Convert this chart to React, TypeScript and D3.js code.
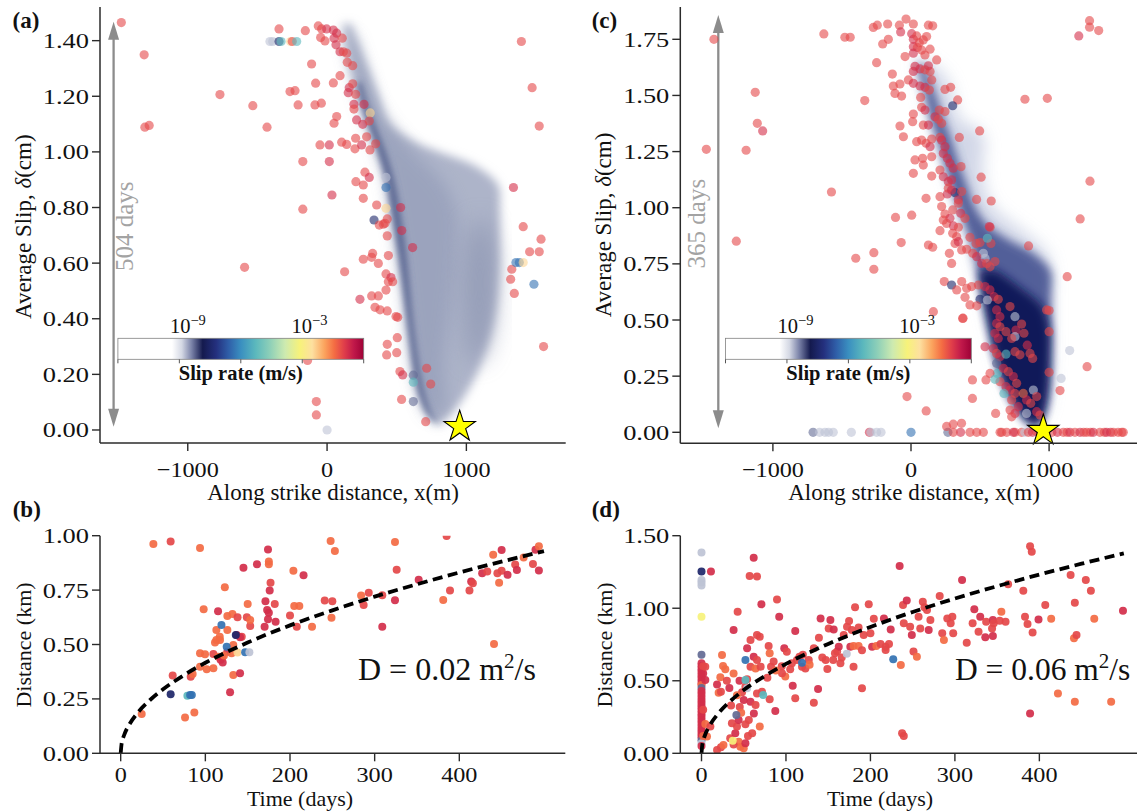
import React from 'react';
import * as d3 from 'd3';

type Pt = [number, number, string];
type Row = [number, number, number];

// ---------------- shared colour map (fraction along colour bar -> colour)
const COLOR_STOPS: [number, string][] = [
  [0.0, '#ffffff'], [0.22, '#ffffff'], [0.26, '#d4d8e4'], [0.30, '#7a82a8'],
  [0.345, '#141a4e'], [0.40, '#24307e'], [0.45, '#2f5ea8'], [0.50, '#3a8fc0'],
  [0.56, '#5bb8bd'], [0.62, '#8fd0b8'], [0.68, '#cdeab0'], [0.74, '#f7f27a'],
  [0.79, '#fde0a0'], [0.84, '#fba45e'], [0.88, '#f46d43'], [0.92, '#e03e4a'],
  [0.96, '#c0184a'], [1.0, '#9e0136'],
];
// log10 slip-rate of each point class
const RATE_LOG: Record<string, number> = {
  R: -1.1, r: -1.4, o: -1.75, p: -2.76, y: -3.5, t: -5.66, b: -6.75, n: -7.9, G: -8.69, g: -9.18,
};
const COLORBAR_DOMAIN: [number, number] = [-12.45, -0.33];
const COLORBAR_LABELS = [-9, -3];

// ---------------- panel (a)
const A_POINTS: Pt[] = [
  [-1477, 1.465, 'r'], [-1313, 1.349, 'r'], [-1308, 1.089, 'r'], [-1277, 1.095, 'r'],
  [-769, 1.206, 'r'], [-533, 1.166, 'r'], [-431, 1.089, 'r'], [-592, 0.585, 'r'], [-345, 1.442, 'r'],
  [-410, 1.397, 'g'], [-390, 1.397, 'g'], [-345, 1.397, 'n'], [-330, 1.397, 't'], [-262, 1.397, 'p'],
  [-250, 1.397, 'r'], [-218, 1.397, 't'],
  [-266, 1.217, 'r'], [-230, 1.220, 'r'], [-208, 1.169, 'r'], [-174, 0.965, 'r'], [-174, 0.794, 'r'],
  [-156, 1.436, 'r'], [-111, 1.316, 'r'], [-82, 1.247, 'r'], [-87, 1.169, 'r'], [-41, 1.175, 'r'],
  [-51, 1.025, 'r'], [16, 1.025, 'R'], [16, 0.965, 'R'], [35, 0.845, 'R'], [126, 0.569, 'r'],
  [-77, 0.102, 'r'], [-77, 0.054, 'r'], [0, 0.0, 'g'], [-140, 0.25, 'r'],
  [-63, 1.453, 'r'], [-39, 1.442, 'r'], [-3, 1.442, 'R'], [45, 1.438, 'R'], [69, 1.427, 'R'],
  [-46, 1.411, 'r'], [-15, 1.399, 'r'], [50, 1.409, 'R'], [64, 1.385, 'R'], [93, 1.360, 'R'],
  [117, 1.360, 'r'], [109, 1.409, 'r'], [141, 1.355, 'r'], [145, 1.322, 'r'], [184, 1.310, 'r'],
  [93, 1.274, 'r'], [45, 1.248, 'r'], [159, 1.231, 'R'], [184, 1.245, 'r'], [152, 1.213, 'R'],
  [205, 1.207, 'r'], [193, 1.171, 'R'], [265, 1.171, 'R'], [193, 1.154, 'r'], [310, 1.140, 'p'],
  [69, 1.127, 'r'], [50, 1.103, 'r'], [212, 1.115, 'R'], [256, 1.099, 'R'], [303, 1.111, 'r'],
  [105, 1.035, 'r'], [141, 1.027, 'r'], [205, 1.049, 'r'], [284, 1.054, 'r'], [200, 1.011, 'r'],
  [248, 1.025, 'R'], [308, 1.007, 'r'], [349, 1.029, 'r'],
  [272, 0.927, 'r'], [303, 0.908, 'R'], [260, 0.881, 'r'], [207, 0.893, 'r'], [423, 0.908, 'g'],
  [423, 0.872, 'b'], [260, 0.833, 'r'], [356, 0.809, 'r'], [423, 0.797, 'p'], [528, 0.800, 'R'],
  [337, 0.755, 'n'], [375, 0.737, 'r'], [404, 0.740, 'r'], [432, 0.759, 'r'], [416, 0.743, 'r'],
  [432, 0.698, 'r'], [536, 0.717, 'R'], [614, 0.656, 'R'], [327, 0.635, 'r'], [260, 0.614, 'r'],
  [320, 0.621, 'r'], [368, 0.599, 'r'], [440, 0.627, 'r'], [423, 0.561, 'r'], [459, 0.548, 'R'],
  [471, 0.533, 'r'], [440, 0.533, 'r'], [423, 0.503, 'r'], [236, 0.470, 'R'], [320, 0.482, 'r'],
  [368, 0.482, 'r'], [344, 0.441, 'r'], [380, 0.432, 'r'], [432, 0.428, 'r'], [495, 0.408, 'r'],
  [507, 0.405, 'r'], [504, 0.332, 'r'], [432, 0.308, 'r'], [500, 0.278, 'r'], [428, 0.270, 'r'],
  [715, 0.222, 'r'], [523, 0.210, 'r'], [543, 0.198, 'R'], [619, 0.197, 'G'], [619, 0.172, 't'],
  [744, 0.165, 'r'], [535, 0.110, 'r'], [619, 0.102, 'G'], [708, 0.030, 'r'],
  [1395, 1.397, 'r'], [1472, 1.231, 'r'], [1523, 1.093, 'r'], [1338, 0.872, 'R'], [1408, 0.731, 'r'],
  [1536, 0.686, 'r'], [1454, 0.641, 'r'], [1523, 0.641, 'r'], [1326, 0.578, 'r'], [1318, 0.542, 'r'],
  [1356, 0.602, 'b'], [1380, 0.602, 'b'], [1408, 0.602, 'p'], [1344, 0.491, 'r'], [1485, 0.524, 'b'],
  [1554, 0.300, 'r'],
];
const A_SHADE_OUTER: Row[] = [
  [1.46, 108, 177], [1.40, 133, 215], [1.30, 177, 292], [1.20, 228, 369], [1.10, 292, 446],
  [1.03, 344, 651], [1.00, 364, 805], [0.95, 395, 1062], [0.88, 433, 1228], [0.80, 459, 1241],
  [0.70, 492, 1241], [0.60, 523, 1241], [0.50, 549, 1228], [0.40, 574, 1203], [0.30, 600, 1151],
  [0.20, 626, 1074], [0.12, 664, 985], [0.06, 715, 895], [0.03, 767, 831], [0.015, 790, 800],
];
const A_SHADE_MID: Row[] = [
  [1.42, 125, 190], [1.30, 180, 270], [1.15, 262, 380], [1.00, 370, 620], [0.90, 430, 820],
  [0.80, 462, 920], [0.60, 525, 920], [0.40, 576, 880], [0.25, 612, 840], [0.12, 668, 850],
  [0.05, 730, 840],
];
const A_SHADE_LOBE: Row[] = [
  [0.75, 1050, 1150], [0.65, 1000, 1200], [0.50, 980, 1210], [0.35, 1000, 1180], [0.25, 1020, 1120],
];
const A_SHADE_STRIPE: Row[] = [
  [1.25, 210, 245], [1.15, 262, 305], [1.00, 366, 420], [0.90, 425, 480],
  [0.80, 459, 520], [0.70, 492, 550], [0.60, 523, 575], [0.50, 549, 595], [0.40, 574, 615],
  [0.30, 600, 640], [0.20, 628, 670], [0.12, 666, 705], [0.06, 718, 750], [0.03, 768, 790],
];
const A_STAR: [number, number] = [952, 0.012];
const A_X_TICKS = [-1000, 0, 1000];
const A_Y_TICKS = [0, 0.2, 0.4, 0.6, 0.8, 1.0, 1.2, 1.4];
const A_DURATION = '504 days';

// ---------------- panel (c)
const C_POINTS: Pt[] = [
  [-1427, 1.750, 'r'], [-1128, 1.514, 'r'], [-1113, 1.376, 'r'], [-1074, 1.342, 'R'], [-1482, 1.260, 'r'],
  [-1194, 1.256, 'r'], [-1265, 0.851, 'r'], [-576, 1.070, 'r'], [-631, 1.774, 'r'], [-479, 1.759, 'r'],
  [-440, 1.759, 'r'], [-335, 1.477, 'r'], [-400, 0.775, 'r'], [-269, 0.80, 'r'], [-269, 0.726, 'r'],
  [-112, 0.957, 'r'], [-71, 0.845, 'r'], [-29, 0.159, 'r'], [110, 0.095, 'r'], [5, 0.967, 'r'],
  [825, 1.483, 'r'], [987, 1.487, 'r'], [1215, 1.765, 'R'], [1293, 1.833, 'r'], [1293, 1.804, 'r'],
  [1359, 1.789, 'r'], [1296, 1.118, 'r'], [1225, 0.950, 'r'], [1131, 0.693, 'r'], [1149, 0.364, 'g'],
  [1275, 0.292, 'r'], [1079, 0.186, 'r'], [851, 0.830, 'r'], [497, 1.342, 'r'], [508, 1.136, 'r'],
  [581, 1.030, 'r'], [573, 0.913, 'r'], [377, 0.508, 'r'], [162, 0.537, 'r'], [445, 0.233, 'r'],
  [445, 0.151, 'r'], [1000, 0.542, 'r'], [1000, 0.448, 'r'], [1000, 0.267, 'r'], [1087, 0.24, 'g'],
  [-273, 1.803, 'r'], [-244, 1.813, 'r'], [-169, 1.818, 'r'], [-84, 1.813, 'r'], [-75, 1.783, 'R'],
  [-36, 1.840, 'r'], [17, 1.818, 'r'], [126, 1.813, 'r'], [157, 1.81, 'r'], [-205, 1.729, 'r'],
  [-164, 1.75, 'r'], [5, 1.775, 'R'], [17, 1.75, 'R'], [41, 1.765, 'r'], [60, 1.735, 'r'],
  [89, 1.747, 'r'], [113, 1.762, 'r'], [17, 1.717, 'R'], [46, 1.714, 'r'], [77, 1.702, 'r'],
  [101, 1.68, 'r'], [138, 1.706, 'r'], [-43, 1.673, 'r'], [17, 1.688, 'R'], [-249, 1.646, 'r'],
  [186, 1.658, 'r'], [29, 1.63, 'R'], [65, 1.618, 'R'], [101, 1.614, 'r'], [138, 1.607, 'r'],
  [17, 1.607, 'R'], [126, 1.632, 'R'], [-135, 1.595, 'r'], [150, 1.569, 'r'], [-128, 1.542, 'r'],
  [-80, 1.551, 'r'], [-116, 1.509, 'r'], [-68, 1.497, 'r'], [-19, 1.569, 'r'], [17, 1.554, 'R'],
  [65, 1.542, 'R'], [101, 1.536, 'R'], [133, 1.524, 'r'], [246, 1.527, 'r'], [287, 1.536, 'r'],
  [70, 1.491, 'r'], [338, 1.480, 'r'], [302, 1.454, 'n'], [77, 1.447, 'r'], [101, 1.435, 'R'],
  [205, 1.435, 'r'], [246, 1.428, 'r'], [17, 1.417, 'r'], [174, 1.405, 'R'], [198, 1.394, 'r'],
  [222, 1.376, 'r'], [-80, 1.364, 'r'], [12, 1.383, 'r'], [89, 1.368, 'r'], [126, 1.368, 'R'],
  [-55, 1.316, 'r'], [41, 1.294, 'r'], [77, 1.301, 'r'], [109, 1.287, 'r'], [138, 1.272, 'R'],
  [150, 1.306, 'r'], [210, 1.313, 'r'], [350, 1.313, 'r'], [222, 1.301, 'R'], [246, 1.272, 'R'],
  [29, 1.213, 'r'], [84, 1.220, 'r'], [89, 1.190, 'r'], [150, 1.227, 'r'], [234, 1.242, 'R'],
  [263, 1.220, 'R'], [282, 1.198, 'R'], [306, 1.176, 'R'], [17, 1.153, 'r'], [150, 1.141, 'r'],
  [210, 1.168, 'r'], [234, 1.138, 'R'], [270, 1.116, 'R'], [294, 1.124, 'R'], [362, 1.183, 'r'],
  [109, 1.042, 'r'], [210, 1.049, 'r'], [263, 1.061, 'R'], [319, 1.067, 'n'], [270, 1.087, 'r'],
  [294, 1.079, 'R'], [367, 1.072, 'r'], [343, 1.035, 'R'], [475, 1.037, 'r'], [222, 1.005, 'r'],
  [246, 0.972, 'r'], [282, 0.953, 'R'], [302, 0.990, 'r'], [343, 1.020, 'r'], [360, 0.975, 'R'],
  [391, 0.953, 'r'], [126, 0.834, 'r'], [157, 0.824, 'r'], [210, 0.898, 'r'], [234, 0.945, 'r'],
  [258, 0.930, 'r'], [307, 0.919, 'R'], [343, 0.913, 'r'], [302, 0.886, 'r'], [331, 0.871, 'r'],
  [427, 0.868, 'r'], [567, 0.916, 'R'], [579, 0.841, 'r'], [319, 0.841, 'r'], [343, 0.849, 'R'],
  [367, 0.812, 'r'], [403, 0.815, 'r'], [471, 0.841, 'r'], [500, 0.845, 'r'], [553, 0.864, 't'],
  [524, 0.797, 'g'], [536, 0.775, 'g'], [447, 0.797, 'r'], [476, 0.782, 'R'], [512, 0.752, 'R'],
  [548, 0.752, 'r'], [572, 0.737, 'r'], [608, 0.760, 'r'], [278, 0.797, 'r'], [294, 0.752, 'r'],
  [241, 0.671, 'r'], [294, 0.656, 'n'], [331, 0.634, 'r'], [367, 0.671, 'r'], [403, 0.641, 'r'],
  [439, 0.649, 'r'], [488, 0.656, 'r'], [500, 0.592, 'n'], [391, 0.601, 'r'], [427, 0.567, 'r'],
  [476, 0.563, 'r'], [374, 0.507, 'r'], [536, 0.649, 'R'], [572, 0.634, 'R'], [601, 0.604, 'R'],
  [632, 0.592, 'r'], [553, 0.589, 'g'], [620, 0.545, 'R'], [644, 0.515, 'R'], [717, 0.560, 'r'],
  [753, 0.515, 'g'], [801, 0.482, 'r'], [760, 0.455, 'R'], [753, 0.426, 'g'], [620, 0.485, 'R'],
  [644, 0.470, 'r'], [608, 0.441, 'R'], [632, 0.418, 'R'], [688, 0.448, 'r'], [729, 0.418, 'r'],
  [818, 0.441, 'r'], [842, 0.388, 'R'], [536, 0.381, 'R'], [596, 0.373, 'R'], [620, 0.351, 'r'],
  [644, 0.336, 'R'], [688, 0.348, 't'], [753, 0.359, 'r'], [789, 0.345, 'r'], [862, 0.351, 'r'],
  [881, 0.329, 'r'], [620, 0.307, 'G'], [625, 0.262, 't'], [669, 0.285, 'R'], [705, 0.270, 'r'],
  [741, 0.248, 'R'], [765, 0.218, 'r'], [572, 0.262, 'r'], [543, 0.233, 'r'], [644, 0.225, 'r'],
  [688, 0.203, 'R'], [717, 0.188, 'R'], [753, 0.173, 'r'], [813, 0.173, 'o'], [886, 0.188, 'g'],
  [837, 0.144, 'R'], [867, 0.129, 'r'], [729, 0.144, 'r'], [777, 0.114, 'R'], [673, 0.173, 't'],
  [613, 0.084, 'r'], [717, 0.099, 'r'], [753, 0.084, 'R'], [837, 0.084, 'g'], [910, 0.092, 'R'],
  [934, 0.077, 'r'], [910, 0.159, 'r'], [982, 0.545, 'r'], [608, 0.236, 't'], [729, 0.069, 'r'],
  [-709, 0, 'G'], [-662, 0, 'g'], [-623, 0, 'g'], [-597, 0, 'g'], [-563, 0, 'g'], [-432, 0, 'g'],
  [-301, 0, 'R'], [-290, 0, 'g'], [-249, 0, 'g'], [-217, 0, 'g'], [0, 0, 'b'], [267, 0, 'G'],
  [359, 0, 'R'], [258, 0.026, 'r'], [306, 0.036, 'r'], [366, 0.04, 'r'], [306, 0, 'r'], [427, 0, 'r'],
  [476, 0, 'r'], [524, 0, 'r'], [645, 0, 'r'], [693, 0, 'r'], [753, 0, 'r'], [801, 0, 'r'],
  [657, 0, 'r'], [741, 0, 'R'], [825, 0, 'g'], [850, 0, 'r'], [880, 0, 'R'], [905, 0.005, 'r'],
  [1020, 0, 'r'], [1060, 0, 'R'], [1103, 0, 'r'], [1130, 0, 'r'], [1151, 0, 'R'], [1187, 0, 'r'],
  [1224, 0, 'R'], [1250, 0, 'r'], [1272, 0, 'r'], [1300, 0, 'r'], [1320, 0, 'R'], [1368, 0, 'r'],
  [1400, 0, 'r'], [1417, 0, 'R'], [1445, 0, 'R'], [1465, 0, 'r'], [1500, 0, 'r'], [1526, 0, 'r'],
  [1537, 0, 'r'],
];
const C_SHADE_HALO: Row[] = [
  [1.66, 32, 110], [1.58, 66, 254], [1.50, 97, 306], [1.40, 136, 346], [1.33, 176, 520],
  [1.20, 241, 520], [1.10, 293, 530], [1.00, 346, 600], [0.90, 398, 800], [0.80, 450, 980],
  [0.72, 477, 1014], [0.60, 529, 1014], [0.45, 581, 1014], [0.30, 647, 1014], [0.20, 700, 1001],
  [0.12, 765, 987], [0.06, 831, 948], [0.03, 883, 922],
];
const C_SHADE_BAND: Row[] = [
  [1.64, 40, 95], [1.50, 100, 180], [1.40, 140, 235], [1.30, 190, 295], [1.20, 240, 345],
  [1.10, 285, 405], [1.00, 345, 465], [0.92, 390, 560], [0.86, 425, 700], [0.80, 452, 880],
  [0.72, 482, 1010], [0.60, 525, 1014], [0.45, 578, 1014], [0.30, 635, 1010], [0.20, 690, 1000],
  [0.12, 760, 980], [0.06, 830, 948], [0.03, 885, 922],
];
const C_SHADE_CORE: Row[] = [
  [0.72, 492, 620], [0.64, 512, 800], [0.56, 535, 950], [0.45, 570, 1005], [0.35, 605, 1005],
  [0.25, 655, 1000], [0.15, 725, 985], [0.08, 800, 960], [0.04, 860, 930],
];
const C_STAR: [number, number] = [958, 0.008];
const C_X_TICKS = [-1000, 0, 1000];
const C_Y_TICKS = [0, 0.25, 0.5, 0.75, 1.0, 1.25, 1.5, 1.75];
const C_DURATION = '365 days';

// ---------------- panel (b)
const B_POINTS: Pt[] = [
  [38.6, 0.962, 'o'], [59, 0.973, 'r'], [93.7, 0.944, 'o'], [248, 0.976, 'o'], [253, 0.930, 'o'],
  [324, 0.971, 'o'], [385, 0.999, 'r'], [440, 0.913, 'o'], [450, 0.934, 'R'], [174, 0.937, 'R'],
  [175, 0.881, 'o'], [175, 0.869, 'o'], [145, 0.853, 'R'], [161, 0.869, 'R'], [204, 0.839, 'o'],
  [216, 0.818, 'R'], [326, 0.843, 'r'], [177, 0.784, 'r'], [176, 0.748, 'R'], [123, 0.763, 'o'],
  [98, 0.662, 'o'], [115, 0.653, 'R'], [171, 0.699, 'R'], [182, 0.686, 'r'], [150, 0.686, 'o'],
  [173, 0.659, 'R'], [175, 0.646, 'R'], [174, 0.616, 'R'], [183, 0.605, 'R'], [170, 0.582, 'R'],
  [153, 0.585, 'r'], [126, 0.631, 'o'], [132, 0.640, 'o'], [149, 0.625, 'r'], [153, 0.613, 'o'],
  [138, 0.625, 'r'], [126, 0.567, 'o'], [137, 0.544, 'R'], [143, 0.536, 'r'], [113, 0.567, 'o'],
  [117, 0.536, 'o'], [113, 0.521, 'o'], [200, 0.633, 'r'], [205, 0.677, 'o'],
  [211, 0.677, 'o'], [208, 0.582, 'r'], [226, 0.582, 'o'], [241, 0.702, 'r'], [250, 0.699, 'r'],
  [249, 0.623, 'o'], [284, 0.725, 'o'], [287, 0.682, 'r'], [293, 0.738, 'r'], [309, 0.726, 'r'],
  [309, 0.582, 'R'], [324, 0.703, 'R'], [352, 0.797, 'R'], [381, 0.705, 'o'], [389, 0.748, 'r'],
  [412, 0.748, 'r'], [414, 0.789, 'R'], [416, 0.781, 'r'], [427, 0.827, 'R'], [433, 0.835, 'r'],
  [445, 0.827, 'r'], [447, 0.784, 'o'], [450, 0.839, 'r'], [457, 0.82, 'R'], [441, 0.502, 'o'],
  [466, 0.868, 'r'], [468, 0.842, 'R'], [476, 0.90, 'o'], [487, 0.87, 'r'], [494, 0.84, 'R'],
  [490, 0.935, 'R'], [494, 0.952, 'o'],
  [24.8, 0.181, 'o'], [61.4, 0.357, 'r'], [76, 0.164, 'o'], [87, 0.188, 'o'],
  [82.7, 0.352, 'r'], [85, 0.365, 'o'], [93.7, 0.46, 'o'], [99.6, 0.455, 'o'], [93.7, 0.398, 'o'],
  [101.6, 0.386, 'o'], [109.5, 0.391, 'o'], [109.5, 0.456, 'r'], [115.4, 0.444, 'o'], [111.4, 0.509, 'o'],
  [117.3, 0.521, 'o'], [120.5, 0.417, 'R'], [126, 0.467, 'R'], [133, 0.36, 'o'],
  [129.2, 0.28, 'R'], [141, 0.368, 'R'], [141, 0.533, 'R'], [131, 0.46, 'o'],
  [133, 0.498, 'o'], [120, 0.44, 'r'], [118, 0.43, 'R'], [122, 0.45, 'o'],
  [59, 0.271, 'n'], [78.8, 0.265, 't'], [82, 0.268, 'b'], [84, 0.268, 'b'], [119, 0.59, 'b'],
  [125.2, 0.49, 'b'], [136, 0.544, 'n'], [138, 0.463, 'p'], [147, 0.464, 'b'], [152, 0.464, 'g'],
];
const B_FIT_T = [0, 1, 2, 5, 10, 20, 35, 50, 75, 100, 150, 200, 250, 300, 350, 400, 450, 500];
const B_FIT_D = [0, 0.042, 0.059, 0.093, 0.131, 0.186, 0.246, 0.294, 0.360, 0.416, 0.509, 0.588, 0.657, 0.720, 0.777, 0.831, 0.881, 0.929];
const B_X_TICKS = [0, 100, 200, 300, 400];
const B_Y_TICKS = [0, 0.25, 0.5, 0.75, 1.0];
const B_DIFFUSIVITY = '0.02';

// ---------------- panel (d)
const D_POINTS: Pt[] = [
  [0, 0.62, 'R'], [0, 0.60, 'R'], [0, 0.58, 'R'], [0, 0.56, 'R'], [0, 0.54, 'R'], [0, 0.52, 'R'],
  [0, 0.50, 'R'], [0, 0.48, 'R'], [0, 0.47, 'o'], [0, 0.45, 'G'], [0, 0.43, 'R'], [0, 0.41, 'R'],
  [0, 0.39, 'R'], [0, 0.37, 'R'], [0, 0.35, 'R'], [0, 0.33, 'R'], [0, 0.31, 'R'], [0, 0.29, 'R'],
  [0, 0.27, 'R'], [0, 0.25, 'R'], [0, 0.23, 'R'], [0, 0.21, 'R'], [0, 0.19, 'R'], [0, 0.17, 'R'],
  [0, 0.15, 'R'], [0, 0.13, 'R'], [0, 0.11, 'R'], [0, 0.09, 'G'], [0, 0.07, 'g'], [0, 0.05, 'R'],
  [2, 0.6, 'r'], [2, 0.55, 'R'], [2, 0.3, 'r'], [2, 0.12, 'o'],
  [4.5, 0.597, 'r'], [4.5, 0.505, 'R'], [4.5, 0.202, 'o'], [10.5, 0.184, 'r'], [6.5, 0.115, 'o'],
  [11.2, 1.254, 'R'], [18.4, 0.475, 'R'], [22.3, 0.524, 'o'], [24.3, 0.678, 'o'], [25.5, 0.602, 'o'],
  [28.2, 0.579, 'o'], [20.3, 0.418, 'o'], [23, 0.425, 'r'], [18.4, 0.023, 'r'], [23, 0.041, 'r'],
  [26, 0.057, 'o'], [38, 0.85, 'R'], [42.8, 0.976, 'r'], [36, 0.207, 'r'], [34, 0.103, 'r'],
  [40, 0.138, 'R'], [42, 0.184, 'r'], [44, 0.23, 'R'], [45.3, 0.32, 'r'],
  [50, 0.368, 'R'], [52, 0.459, 'r'], [54, 0.51, 'r'], [46, 0.046, 'o'], [50, 0.034, 'o'],
  [54, 0.724, 'R'], [58, 0.781, 'r'],
  [61.8, 1.348, 'R'], [57, 1.222, 'r'], [65.7, 1.218, 'r'], [70.9, 1.027, 'R'], [65.7, 0.816, 'r'],
  [69, 0.804, 'r'], [61.8, 0.666, 'R'], [65.7, 0.643, 'r'], [58, 0.597, 'r'], [64, 0.585, 'o'],
  [70, 0.597, 'r'], [65.7, 0.413, 'r'], [71.6, 0.425, 'r'], [69, 0.184, 'o'],
  [58, 0.356, 'R'], [64, 0.333, 'r'], [62, 0.275, 'R'], [56, 0.23, 'r'], [60, 0.138, 'r'],
  [30, 0.5, 'r'], [33, 0.45, 'R'], [38, 0.55, 'o'], [45, 0.5, 'R'], [48, 0.42, 'r'], [42, 0.4, 'o'],
  [35, 0.33, 'r'], [47, 0.28, 'o'], [52, 0.2, 'r'], [55, 0.12, 'r'], [44, 0.08, 'o'], [38, 0.06, 'r'],
  [52, 0.07, 'R'],
  [89.4, 1.061, 'r'], [92, 0.942, 'R'], [79.5, 0.74, 'r'], [80.7, 0.689, 'o'], [82.3, 0.597, 'r'],
  [85.4, 0.632, 'r'], [80.7, 0.372, 'r'], [87.4, 0.292, 'R'], [98, 0.724, 'R'], [101, 0.7, 'r'],
  [99.2, 0.529, 'o'], [95.3, 0.551, 'r'], [108, 0.466, 'R'], [111, 0.379, 'r'], [107, 0.62, 'r'],
  [113, 0.643, 'r'], [119, 0.597, 'r'], [111, 0.843, 'R'], [116, 0.666, 'r'],
  [123, 0.585, 'r'], [127, 0.643, 'r'], [133, 0.724, 'r'], [133, 0.349, 'r'], [139, 0.797, 'r'],
  [138, 0.443, 'R'], [141, 0.93, 'R'], [149, 0.581, 'r'], [147, 0.643, 'r'], [152.6, 0.919, 'R'],
  [150.6, 0.861, 'r'], [156.5, 0.854, 'R'], [156, 0.643, 'r'], [160.6, 0.701, 'r'], [162.5, 0.735, 'R'],
  [164.5, 0.62, 'r'], [168.4, 0.816, 'r'], [172.3, 0.873, 'r'], [174.7, 0.912, 'r'], [178, 0.85, 'r'],
  [176.2, 0.735, 'R'], [180, 0.74, 'o'], [186, 0.74, 'o'], [180, 0.597, 'r'],
  [181.8, 1.006, 'r'], [186, 0.868, 'r'], [190, 0.448, 'r'], [192, 0.816, 'r'], [198, 1.027, 'r'],
  [200, 0.827, 'r'], [202, 0.735, 'R'], [204, 0.928, 'r'], [207, 0.74, 'o'], [212, 0.753, 'r'],
  [216, 0.93, 'R'], [218, 0.735, 'r'], [218, 0.712, 'r'], [222, 0.753, 'r'], [224, 0.854, 'R'],
  [234.6, 1.291, 'R'], [236, 0.608, 'o'], [237.5, 0.138, 'r'], [239.5, 0.119, 'r'],
  [238.6, 1.022, 'r'], [239.5, 0.896, 'r'], [243, 1.054, 'R'], [247, 0.873, 'r'], [249, 0.816, 'R'],
  [251, 0.701, 'r'], [255, 0.666, 'o'], [257, 0.942, 'r'], [259, 0.861, 'r'], [262, 1.045, 'r'],
  [264, 1.006, 'r'], [267, 0.988, 'r'], [269, 0.85, 'R'], [271, 0.919, 'r'], [282, 1.084, 'r'],
  [285, 0.827, 'r'], [287, 0.781, 'o'], [291, 0.93, 'r'], [295, 0.896, 'r'], [297, 0.942, 'r'],
  [298, 0.827, 'r'], [308.5, 1.195, 'R'], [314, 0.762, 'r'], [321, 0.896, 'r'], [323, 0.993, 'R'],
  [328, 0.838, 'r'], [330, 0.942, 'R'], [336, 0.8, 'R'], [337, 0.907, 'r'], [345, 0.919, 'R'],
  [344, 0.861, 'r'], [345, 0.808, 'R'], [346, 0.896, 'r'], [353, 0.914, 'r'], [355, 0.976, 'o'],
  [360, 0.907, 'r'], [363, 1.165, 'r'], [381, 1.121, 'r'], [383, 0.942, 'r'], [386, 0.891, 'r'],
  [389, 1.428, 'r'], [391, 1.39, 'r'], [389, 0.275, 'R'], [392, 0.832, 'r'], [399, 0.923, 'R'],
  [407, 1.022, 'r'], [414, 0.928, 'o'], [422, 0.413, 'o'], [437, 1.229, 'r'], [442, 1.038, 'r'],
  [441, 0.793, 'o'], [444, 0.816, 'r'], [442, 0.356, 'o'], [455, 1.195, 'r'], [461, 1.121, 'r'],
  [465, 0.928, 'o'], [485, 0.356, 'o'], [499, 0.983, 'R'],
  [105, 0.58, 'r'], [128, 0.61, 'o'], [143, 0.66, 'r'], [158, 0.69, 'r'], [166, 0.66, 'r'],
  [190, 0.71, 'r'], [120, 0.68, 'r'], [95, 0.6, 'r'], [88, 0.57, 'o'], [78, 0.52, 'r'],
  [0, 1.385, 'g'], [0, 1.254, 'n'], [0, 1.195, 'g'], [0, 1.177, 'g'], [0, 1.156, 'g'],
  [0, 0.942, 'y'], [0, 0.680, 'G'], [37, 0.087, 'y'], [41.3, 0.264, 'G'], [52, 0.643, 'b'],
  [52, 0.505, 't'], [54, 0.448, 'g'], [73, 0.402, 't'], [119, 0.624, 'b'], [172, 0.686, 'g'],
  [227, 0.648, 'b'],
];
const D_FIT_T = [0, 1, 2, 5, 10, 20, 35, 50, 75, 100, 150, 200, 250, 300, 350, 400, 450, 500];
const D_FIT_D = [0, 0.062, 0.087, 0.138, 0.195, 0.275, 0.364, 0.436, 0.533, 0.616, 0.754, 0.871, 0.974, 1.067, 1.152, 1.232, 1.307, 1.378];
const D_X_TICKS = [0, 100, 200, 300, 400];
const D_Y_TICKS = [0, 0.5, 1.0, 1.5];
const D_DIFFUSIVITY = '0.06';

// ---------------- rendering
const FONT = '"Liberation Serif","Times New Roman",Times,serif';
const INK = '#2b2b2b';

const cbPos = d3.scaleLinear().domain(COLORBAR_DOMAIN).range([0, 1]);
const cmap = d3.scaleLinear<string>()
  .domain(COLOR_STOPS.map((s) => s[0]))
  .range(COLOR_STOPS.map((s) => s[1]))
  .interpolate(d3.interpolateRgb)
  .clamp(true);
const colorOf = (k: string) => cmap(cbPos(RATE_LOG[k]));

const fmtX = d3.format('d');
const fmt2 = d3.format('.2f');

function Axes(props: any) {
  const { xs, ys, xTicks, yTicks, xFmt, yFmt, xLabY, top } = props;
  const [x0, x1] = xs.range();
  const y0 = ys.range()[0];
  return (
    <g fontFamily={FONT} fill="#111">
      <line x1={x0} x2={x1} y1={y0} y2={y0} stroke={INK} strokeWidth={1.5} />
      <line x1={x0} x2={x0} y1={y0} y2={top} stroke={INK} strokeWidth={1.5} />
      {xTicks.map((t: number) => (
        <g key={'x' + t}>
          <line x1={xs(t)} x2={xs(t)} y1={y0} y2={y0 + 8} stroke={INK} strokeWidth={1.4} />
          <text transform={`translate(${xs(t)},${xLabY}) scale(1.1,1)`} textAnchor="middle" fontSize={22}>{xFmt(t)}</text>
        </g>
      ))}
      {yTicks.map((t: number) => (
        <g key={'y' + t}>
          <line x1={x0 - 8} x2={x0} y1={ys(t)} y2={ys(t)} stroke={INK} strokeWidth={1.4} />
          <text transform={`translate(${x0 - 11},${ys(t) + 7.5}) scale(1.2,1)`} textAnchor="end" fontSize={22}>{yFmt(t)}</text>
        </g>
      ))}
    </g>
  );
}

function shade(xs: any, ys: any, rows: Row[]) {
  return d3.area<Row>()
    .y((d) => ys(d[0]))
    .x0((d) => xs(d[1]))
    .x1((d) => xs(d[2]))
    .curve(d3.curveCatmullRom)(rows) || '';
}

function Colorbar({ x0, gid }: { x0: number; gid: string }) {
  const w = 245.8, y = 338.3, h = 21;
  return (
    <g fontFamily={FONT}>
      <rect x={x0} y={y} width={w} height={h} fill={`url(#${gid})`} stroke="#808080" strokeWidth={0.8} />
      {[0, 0.25, 0.5, 0.75, 1].map((f) => (
        <line key={f} x1={x0 + f * w} x2={x0 + f * w} y1={y + h} y2={y + h + 4} stroke="#555" strokeWidth={1} />
      ))}
      {COLORBAR_LABELS.map((v) => (
        <text key={v} x={x0 + cbPos(v) * w} y={333.3} textAnchor="middle" fontSize={20.5} fill="#111">
          10<tspan dy={-8} fontSize={14.5}>{'\u2212' + Math.abs(v)}</tspan>
        </text>
      ))}
      <text x={x0 + w / 2} y={380} textAnchor="middle" fontSize={20.5} fontWeight="bold" fill="#111">
        Slip rate (m/s)
      </text>
    </g>
  );
}

function Duration({ x, top, bottom, label, tx }: any) {
  const c = '#8c8c8c';
  return (
    <g>
      <line x1={x} x2={x} y1={top + 12} y2={bottom - 12} stroke={c} strokeWidth={2.3} />
      <polygon points={`${x},${top} ${x - 5.5},${top + 18} ${x + 5.5},${top + 18}`} fill={c} />
      <polygon points={`${x},${bottom} ${x - 5.5},${bottom - 18} ${x + 5.5},${bottom - 18}`} fill={c} />
      <text transform={`translate(${tx},${(top + bottom) / 2 + 2}) rotate(-90)`} textAnchor="middle"
        fontFamily={FONT} fontSize={25} fill="#a3a3a3">{label}</text>
    </g>
  );
}

const starPath = d3.symbol(d3.symbolStar, 305)() || '';

export default function App() {
  // scales
  const xA = d3.scaleLinear().domain([-1630, 1713]).range([100, 565.7]);
  const yA = d3.scaleLinear().domain([-0.0468, 1.521]).range([443, 7]);
  const xC = d3.scaleLinear().domain([-1670.5, 1636.5]).range([680.3, 1137]);
  const yC = d3.scaleLinear().domain([-0.049, 1.8938]).range([443.3, 7]);
  const xB = d3.scaleLinear().domain([-24.45, 525.2]).range([100, 565.3]);
  const yB = d3.scaleLinear().domain([0, 1]).range([753.3, 535.7]);
  const xD = d3.scaleLinear().domain([-25.1, 515.6]).range([680.3, 1137]);
  const yD = d3.scaleLinear().domain([0, 1.5]).range([753.3, 535.7]);

  const fitLine = (xs: any, ys: any, T: number[], D: number[]) =>
    d3.line<number>().x((_, i) => xs(T[i])).y((_, i) => ys(D[i])).curve(d3.curveMonotoneX)(T) || '';

  const dots = (pts: Pt[], xs: any, ys: any, r: number, op: number) =>
    pts.map((p, i) => (
      <circle key={i} cx={xs(p[0])} cy={ys(p[1])} r={r} fill={colorOf(p[2])} fillOpacity={op} />
    ));

  return (
    <svg width={1137} height={812} style={{ position: 'absolute', left: 0, top: 0 }}
      xmlns="http://www.w3.org/2000/svg">
      <defs>
        <linearGradient id="cbgrad" x1="0" x2="1" y1="0" y2="0">
          {COLOR_STOPS.map((s, i) => <stop key={i} offset={s[0]} stopColor={s[1]} />)}
        </linearGradient>
        {[3, 5, 8, 12].map((s) => (
          <filter key={s} id={'blur' + s} x="-50%" y="-50%" width="200%" height="200%">
            <feGaussianBlur stdDeviation={s} />
          </filter>
        ))}
        <clipPath id="clipB"><rect x={100} y={535.7} width={465.3} height={217.6} /></clipPath>
        <clipPath id="clipD"><rect x={680.3} y={535.7} width={456.7} height={217.6} /></clipPath>
      </defs>
      <rect x={0} y={0} width={1137} height={812} fill="#fff" />

      {/* ---------- (a) ---------- */}
      <g>
        <path d={shade(xA, yA, A_SHADE_OUTER)} fill="#adb4c9" filter="url(#blur5)" />
        <path d={shade(xA, yA, A_SHADE_MID)} fill="#959eb9" opacity={0.75} filter="url(#blur8)" />
        <path d={shade(xA, yA, A_SHADE_LOBE)} fill="#848dab" opacity={0.6} filter="url(#blur12)" />
        <path d={shade(xA, yA, A_SHADE_STRIPE)} fill="#465485" opacity={0.8} filter="url(#blur3)" />
      </g>
      <Duration x={113.6} top={21.7} bottom={426.7} label={A_DURATION} tx={133} />
      <g>{dots(A_POINTS, xA, yA, 4.6, 0.6)}</g>
      <path d={starPath} transform={`translate(${xA(A_STAR[0])},${yA(A_STAR[1])})`} fill="#ffff00" stroke="#000" strokeWidth={1.1} />
      <Axes xs={xA} ys={yA} xTicks={A_X_TICKS} yTicks={A_Y_TICKS} xFmt={fmtX} yFmt={fmt2} xLabY={477} top={7} />
      <Colorbar x0={117.9} gid="cbgrad" />
      <text x={333} y={500} textAnchor="middle" fontFamily={FONT} fontSize={23} fill="#111">Along strike distance, x(m)</text>
      <text transform="translate(31,226.7) rotate(-90)" textAnchor="middle" fontFamily={FONT} fontSize={23} fill="#111">
        Average Slip, <tspan fontStyle="italic">δ</tspan>(cm)
      </text>
      <text x={12.5} y={28} fontFamily={FONT} fontSize={23} fontWeight="bold" fill="#111">(a)</text>

      {/* ---------- (c) ---------- */}
      <g>
        <path d={shade(xC, yC, C_SHADE_HALO)} fill="#cdd3e5" opacity={0.9} filter="url(#blur8)" />
        <path d={shade(xC, yC, C_SHADE_BAND)} fill="#3c4c8c" opacity={0.85} filter="url(#blur5)" />
        <path d={shade(xC, yC, C_SHADE_CORE)} fill="#0c1957" opacity={0.95} filter="url(#blur5)" />
      </g>
      <Duration x={718.3} top={15} bottom={428.3} label={C_DURATION} tx={705} />
      <g>{dots(C_POINTS, xC, yC, 4.6, 0.6)}</g>
      <path d={starPath} transform={`translate(${xC(C_STAR[0])},${yC(C_STAR[1])})`} fill="#ffff00" stroke="#000" strokeWidth={1.1} />
      <Axes xs={xC} ys={yC} xTicks={C_X_TICKS} yTicks={C_Y_TICKS} xFmt={fmtX} yFmt={fmt2} xLabY={477} top={7} />
      <Colorbar x0={725.5} gid="cbgrad" />
      <text x={914} y={500} textAnchor="middle" fontFamily={FONT} fontSize={23} fill="#111">Along strike distance, x(m)</text>
      <text transform="translate(611,225) rotate(-90)" textAnchor="middle" fontFamily={FONT} fontSize={23} fill="#111">
        Average Slip, <tspan fontStyle="italic">δ</tspan>(cm)
      </text>
      <text x={591.7} y={28} fontFamily={FONT} fontSize={23} fontWeight="bold" fill="#111">(c)</text>

      {/* ---------- (b) ---------- */}
      <g clipPath="url(#clipB)">{dots(B_POINTS, xB, yB, 4, 0.92)}</g>
      <path d={fitLine(xB, yB, B_FIT_T, B_FIT_D)} fill="none" stroke="#000" strokeWidth={3.8} strokeDasharray="10 5.5" />
      <Axes xs={xB} ys={yB} xTicks={B_X_TICKS} yTicks={B_Y_TICKS} xFmt={fmtX} yFmt={fmt2} xLabY={782} top={535.7} />
      <text x={300} y={806} textAnchor="middle" fontFamily={FONT} fontSize={22} fill="#111">Time (days)</text>
      <text transform="translate(31,645) rotate(-90)" textAnchor="middle" fontFamily={FONT} fontSize={22} fill="#111">Distance (km)</text>
      <text x={358} y={680} fontFamily={FONT} fontSize={32} fill="#111">
        D = {B_DIFFUSIVITY} m<tspan dy={-12} fontSize={21}>2</tspan><tspan dy={12}>/s</tspan>
      </text>
      <text x={12.7} y={517} fontFamily={FONT} fontSize={23} fontWeight="bold" fill="#111">(b)</text>

      {/* ---------- (d) ---------- */}
      <g clipPath="url(#clipD)">{dots(D_POINTS, xD, yD, 4, 0.92)}</g>
      <path d={fitLine(xD, yD, D_FIT_T, D_FIT_D)} fill="none" stroke="#000" strokeWidth={3.8} strokeDasharray="10 5.5" />
      <Axes xs={xD} ys={yD} xTicks={D_X_TICKS} yTicks={D_Y_TICKS} xFmt={fmtX} yFmt={fmt2} xLabY={782} top={535.7} />
      <text x={880} y={806} textAnchor="middle" fontFamily={FONT} fontSize={22} fill="#111">Time (days)</text>
      <text transform="translate(612,645) rotate(-90)" textAnchor="middle" fontFamily={FONT} fontSize={22} fill="#111">Distance (km)</text>
      <text x={955} y={680} fontFamily={FONT} fontSize={31.5} fill="#111">
        D = {D_DIFFUSIVITY} m<tspan dy={-12} fontSize={21}>2</tspan><tspan dy={12}>/s</tspan>
      </text>
      <text x={591.7} y={517} fontFamily={FONT} fontSize={23} fontWeight="bold" fill="#111">(d)</text>
    </svg>
  );
}
